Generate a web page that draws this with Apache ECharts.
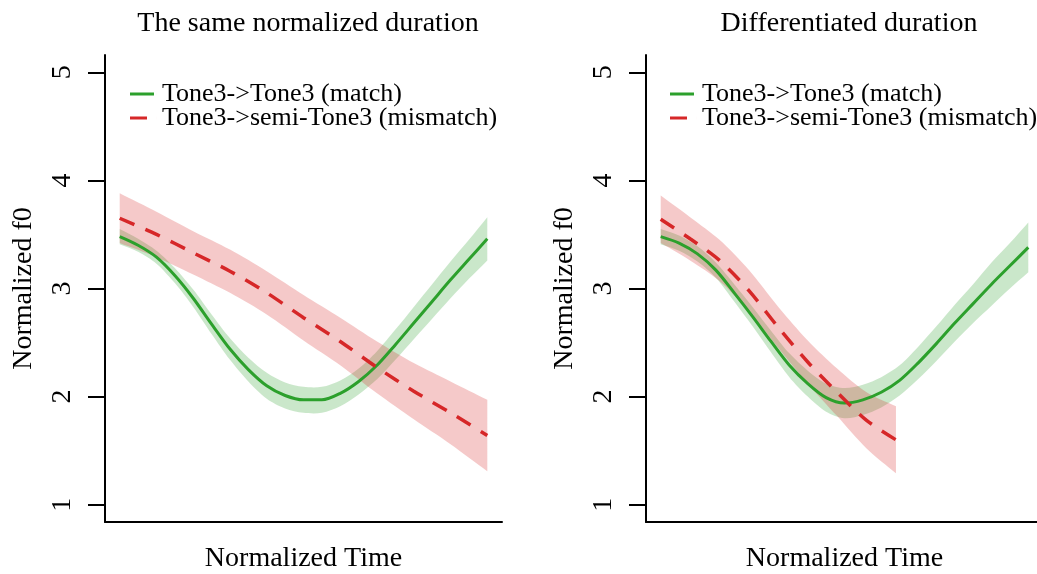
<!DOCTYPE html>
<html>
<head>
<meta charset="utf-8">
<script src="https://cdn.jsdelivr.net/npm/echarts@6/dist/echarts.min.js"></script>
<style>
  html, body { margin: 0; padding: 0; background: #fff; }
  #main { width: 1037px; height: 574px; }
</style>
</head>
<body>
<div id="main"></div>
<script>
// 刻度
var yTicks = [1, 2, 3, 4, 5];
var titles = ['The same normalized duration', 'Differentiated duration'];
var matchName = 'Tone3->Tone3 (match)';
var mismatchName = 'Tone3->semi-Tone3 (mismatch)';

// 左图: 相同时长
var leftMatchT = [0, 0.05, 0.1, 0.15, 0.2, 0.25, 0.3, 0.35, 0.4, 0.45, 0.5, 0.55, 0.6, 0.65, 0.7, 0.75, 0.8, 0.85, 0.9, 0.95, 1];
var leftMatch = [3.48, 3.40, 3.29, 3.12, 2.91, 2.67, 2.44, 2.25, 2.10, 2.01, 1.97, 1.97, 2.03, 2.14, 2.29, 2.48, 2.68, 2.88, 3.08, 3.27, 3.46];
var leftMatchUp = [3.55, 3.46, 3.35, 3.19, 2.99, 2.76, 2.54, 2.36, 2.22, 2.13, 2.09, 2.09, 2.15, 2.26, 2.42, 2.62, 2.83, 3.04, 3.25, 3.45, 3.66];
var leftMatchLo = [3.41, 3.34, 3.23, 3.05, 2.83, 2.58, 2.34, 2.14, 1.98, 1.89, 1.85, 1.85, 1.91, 2.02, 2.16, 2.34, 2.53, 2.72, 2.91, 3.09, 3.26];

var leftMisT = [0, 0.1, 0.2, 0.3, 0.4, 0.5, 0.6, 0.7, 0.8, 0.9, 1];
var leftMis = [3.65, 3.50, 3.33, 3.16, 2.96, 2.73, 2.51, 2.27, 2.05, 1.85, 1.64];
var leftMisUp = [3.88, 3.71, 3.53, 3.36, 3.16, 2.94, 2.73, 2.51, 2.31, 2.14, 1.97];
var leftMisLo = [3.42, 3.29, 3.13, 2.96, 2.76, 2.52, 2.29, 2.03, 1.79, 1.56, 1.31];

// 右图: 不同时长
var rightMatchT = [0, 0.05, 0.1, 0.15, 0.2, 0.25, 0.3, 0.35, 0.4, 0.45, 0.5, 0.55, 0.6, 0.65, 0.7, 0.75, 0.8, 0.85, 0.9, 0.95, 1];
var rightMatch = [3.48, 3.42, 3.32, 3.17, 2.96, 2.74, 2.51, 2.29, 2.12, 1.99, 1.94, 1.97, 2.04, 2.15, 2.31, 2.49, 2.68, 2.86, 3.04, 3.21, 3.38];
var rightMatchUp = [3.55, 3.49, 3.39, 3.24, 3.04, 2.83, 2.61, 2.40, 2.24, 2.12, 2.08, 2.11, 2.18, 2.29, 2.46, 2.65, 2.85, 3.04, 3.24, 3.42, 3.61];
var rightMatchLo = [3.41, 3.35, 3.25, 3.10, 2.88, 2.65, 2.41, 2.18, 2.00, 1.86, 1.80, 1.83, 1.90, 2.01, 2.16, 2.33, 2.51, 2.68, 2.84, 3.00, 3.15];

var rightMisT = [0, 0.08, 0.16, 0.24, 0.32, 0.4, 0.48, 0.56, 0.64];
var rightMis = [3.64, 3.46, 3.26, 2.98, 2.64, 2.32, 2.04, 1.78, 1.60];
var rightMisUp = [3.86, 3.66, 3.45, 3.17, 2.83, 2.52, 2.26, 2.04, 1.91];
var rightMisLo = [3.42, 3.26, 3.07, 2.79, 2.45, 2.12, 1.82, 1.52, 1.29];

var green = '#2ca02c';
var red = '#d62728';
var font = 'Liberation Serif';

function pairs(t, v) {
    var out = [];
    for (var i = 0; i < t.length; i++) out.push([t[i], v[i]]);
    return out;
}

// 置信带: 上沿从左到右, 下沿从右到左, 拐角点重复一次保持尖角
function band(idx, t, up, lo, color) {
    return {
        type: 'custom', xAxisIndex: idx, yAxisIndex: idx, silent: true,
        data: [[t[0], lo[0]]],
        renderItem: function (params, api) {
            var pts = [];
            var n = t.length;
            pts.push(api.coord([t[0], up[0]]));
            for (var i = 0; i < n; i++) pts.push(api.coord([t[i], up[i]]));
            pts.push(api.coord([t[n - 1], up[n - 1]]));
            pts.push(api.coord([t[n - 1], lo[n - 1]]));
            for (var j = n - 1; j >= 0; j--) pts.push(api.coord([t[j], lo[j]]));
            pts.push(api.coord([t[0], lo[0]]));
            return {
                type: 'polygon',
                shape: { points: pts, smooth: 0.3 },
                style: { fill: color, opacity: 0.25 }
            };
        }
    };
}

function panel(idx, mT, m, mUp, mLo, xT, x, xUp, xLo) {
    return [
        band(idx, mT, mUp, mLo, green),
        {
            name: matchName, type: 'line', xAxisIndex: idx, yAxisIndex: idx,
            data: pairs(mT, m), smooth: 0.3, symbol: 'none',
            lineStyle: { color: green, width: 3 }, itemStyle: { color: green }
        },
        band(idx, xT, xUp, xLo, red),
        {
            name: mismatchName, type: 'line', xAxisIndex: idx, yAxisIndex: idx,
            data: pairs(xT, x), smooth: 0.3, symbol: 'none',
            lineStyle: { color: red, width: 3.5, type: [16, 12] }, itemStyle: { color: red }
        }
    ];
}

function xAx(idx) {
    return {
        gridIndex: idx, type: 'value', min: -0.04, max: 1.04,
        axisLine: { show: true, onZero: false, lineStyle: { color: '#000', width: 2 } },
        axisTick: { show: false }, axisLabel: { show: false }, splitLine: { show: false },
        name: 'Normalized Time', nameLocation: 'middle', nameGap: 23,
        nameTextStyle: { fontFamily: font, fontSize: 28, color: '#000' }
    };
}

function yAx(idx) {
    return {
        gridIndex: idx, type: 'value', min: 0.84, max: 5.16,
        axisLine: { show: true, onZero: false, lineStyle: { color: '#000', width: 2 } },
        axisTick: { show: true, length: 17, customValues: yTicks, lineStyle: { color: '#000', width: 2 } },
        axisLabel: { customValues: yTicks, rotate: 90, margin: 28, fontFamily: font, fontSize: 28, color: '#000' },
        splitLine: { show: false },
        name: 'Normalized f0', nameLocation: 'middle', nameGap: 67, nameRotate: 90,
        nameTextStyle: { fontFamily: font, fontSize: 28, color: '#000' }
    };
}

function legendAt(left) {
    return {
        orient: 'vertical', left: left, top: 81, padding: 0,
        itemWidth: 27, itemHeight: 3, itemGap: -2,
        data: [
            { name: matchName, icon: 'path://M0 0h24v3h-24z M27 0h0.01v3h-0.01z' },
            { name: mismatchName, icon: 'path://M0 0h17v3h-17z M27 0h0.01v3h-0.01z' }
        ],
        selectedMode: false,
        textStyle: { fontFamily: font, fontSize: 26, color: '#000' }
    };
}

var myChart = echarts.init(document.getElementById('main'));
var option = {
    animation: false,
    backgroundColor: '#fff',
    title: [
        { text: titles[0], left: 303, top: 5, textAlign: 'center', textStyle: { fontFamily: font, fontSize: 28, fontWeight: 'normal', color: '#000' } },
        { text: titles[1], left: 844, top: 5, textAlign: 'center', textStyle: { fontFamily: font, fontSize: 28, fontWeight: 'normal', color: '#000' } }
    ],
    legend: [legendAt(130), legendAt(670)],
    grid: [
        { left: 105, top: 55, width: 397, height: 467, outerBoundsMode: 'none', containLabel: false },
        { left: 646, top: 55, width: 397, height: 467, outerBoundsMode: 'none', containLabel: false }
    ],
    xAxis: [xAx(0), xAx(1)],
    yAxis: [yAx(0), yAx(1)],
    series: panel(0, leftMatchT, leftMatch, leftMatchUp, leftMatchLo, leftMisT, leftMis, leftMisUp, leftMisLo)
        .concat(panel(1, rightMatchT, rightMatch, rightMatchUp, rightMatchLo, rightMisT, rightMis, rightMisUp, rightMisLo))
};
myChart.setOption(option);
</script>
</body>
</html>
